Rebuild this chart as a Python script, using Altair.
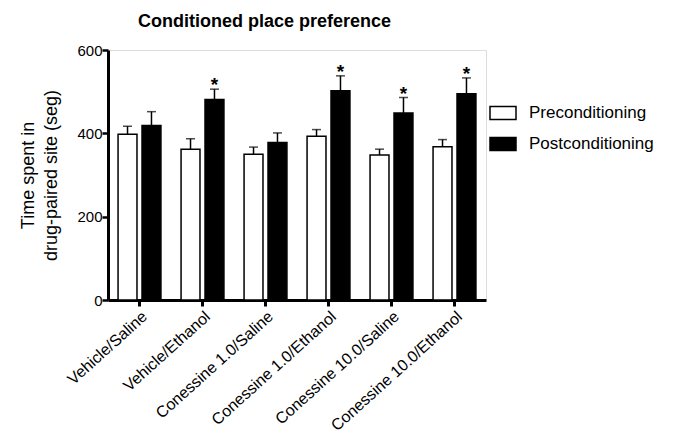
import altair as alt
import pandas as pd

groups = ["Vehicle/Saline", "Vehicle/Ethanol", "Conessine 1.0/Saline",
          "Conessine 1.0/Ethanol", "Conessine 10.0/Saline", "Conessine 10.0/Ethanol"]
phases = ["Preconditioning", "Postconditioning"]
pre_mean = [398, 362, 350, 393, 348, 368]
pre_sem = [19, 25, 17, 16, 14, 17]
post_mean = [419, 481, 378, 502, 449, 495]
post_sem = [33, 25, 23, 36, 37, 38]
post_sig = [False, True, False, True, True, True]

rows = []
for i, g in enumerate(groups):
    rows.append(dict(group=g, phase=phases[0], mean=pre_mean[i], top=pre_mean[i] + pre_sem[i], star=""))
    rows.append(dict(group=g, phase=phases[1], mean=post_mean[i], top=post_mean[i] + post_sem[i],
                     star="*" if post_sig[i] else ""))
df = pd.DataFrame(rows)

FONT = "Liberation Sans"

x = alt.X("group:N", sort=groups, title=None,
          scale=alt.Scale(paddingInner=0, paddingOuter=0),
          axis=alt.Axis(labelAngle=-42, labelFontSize=16, labelFont=FONT, labelColor="black",
                        domainWidth=3, domainColor="black", tickWidth=3, tickSize=6,
                        tickColor="black", labelPadding=2))
xo = alt.XOffset("phase:N", sort=phases,
                 scale=alt.Scale(paddingInner=0.21, paddingOuter=0.42))

base = alt.Chart(df).encode(x=x, xOffset=xo)

bars = base.mark_bar(stroke="black", strokeWidth=1.5).encode(
    y=alt.Y("mean:Q", scale=alt.Scale(domain=[0, 600], nice=False),
            title=["Time spent in", "drug-paired site (seg)"],
            axis=alt.Axis(values=[0, 200, 400, 600], labelFontSize=15, labelFont=FONT,
                          labelColor="black", titleFont=FONT, titleFontSize=18,
                          titleFontWeight="normal", titleColor="black", titleLineHeight=23,
                          domainWidth=3, domainColor="black", tickWidth=2.5, tickSize=6,
                          tickColor="black", grid=False, titlePadding=16, labelPadding=0)),
    fill=alt.Fill("phase:N", sort=phases,
                  scale=alt.Scale(domain=phases, range=["white", "black"]),
                  legend=alt.Legend(title=None, orient="none", legendX=381, legendY=49,
                                    symbolType="M-1,-0.5H1V0.5H-1Z", symbolSize=676,
                                    symbolStrokeColor="black", symbolStrokeWidth=1.5,
                                    labelFont=FONT, labelFontSize=17, labelColor="black",
                                    rowPadding=7, labelOffset=12, padding=0)),
)

rules = base.mark_rule(color="black", strokeWidth=1.5).encode(
    y="mean:Q", y2="top:Q")
caps = base.mark_tick(orient="horizontal", size=9, thickness=1.5, color="black").encode(
    y="top:Q")
stars = base.mark_text(fontSize=19, fontWeight="bold", font=FONT, baseline="alphabetic",
                       dy=2, color="black").encode(y="top:Q", text="star:N")

chart = alt.layer(bars, rules, caps, stars).properties(
    width=378, height=250,
    padding={"left": 11, "top": 5, "right": 5, "bottom": 5},
    title=alt.Title("Conditioned place preference", font=FONT, fontSize=18,
                    fontWeight="bold", color="black", anchor="start", frame="group",
                    dx=30, offset=12),
).configure_view(stroke=None).configure(background="white")

chart.save("out.html", embed_options={"renderer": "svg", "actions": False})
